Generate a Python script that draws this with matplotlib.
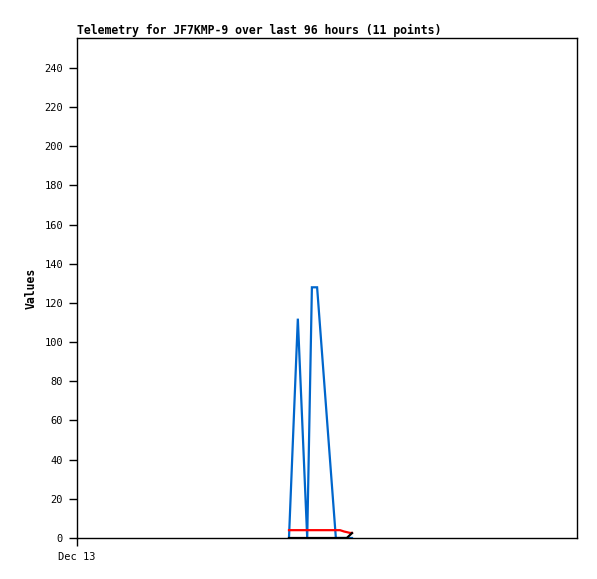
import matplotlib
matplotlib.use("Agg")
import matplotlib.pyplot as plt

# hours since Dec 13 00:00
hours = [40.7, 42.4, 44.2, 45.1, 46.1, 49.7, 50.5, 51.3, 51.8, 52.4, 52.8]
blue_vals = [0, 112, 0, 128, 128, 0, 0, 0, 0, 0, 0]
red_vals = [4, 4, 4, 4, 4, 4, 4, 3.3, 3, 2.6, 2.6]
black_vals = [0, 0, 0, 0, 0, 0, 0, 0, 0, 1.5, 2.5]
yticks = [0, 20, 40, 60, 80, 100, 120, 140, 160, 180, 200, 220, 240]
xtick_pos = [0]
xtick_labels = ["Dec 13"]

fig = plt.figure(figsize=(5.97, 5.79), dpi=100)
ax = fig.add_axes([77/597, 1-538/579, 500/597, 500/579])
mono = "DejaVu Sans Mono"

ax.plot(hours, blue_vals, color="#0066cc", lw=1.6, solid_joinstyle="miter")
ax.plot(hours, red_vals, color="#ff0000", lw=1.6)
ax.plot(hours, black_vals, color="#000000", lw=1.6)

ax.set_xlim(0, 96)
ax.set_ylim(0, 255.3)
ax.set_yticks(yticks)
ax.set_yticklabels([str(v) for v in yticks], family=mono, fontsize=7.5)
ax.set_xticks(xtick_pos)
ax.set_xticklabels(xtick_labels, family=mono, fontsize=7.5)
ax.tick_params(axis="both", direction="out", length=6, width=1, color="black", pad=4)
for s in ax.spines.values():
    s.set_linewidth(1)
    s.set_color("black")
ax.set_ylabel("Values", family=mono, fontsize=8.3, fontweight="bold", labelpad=5)
ax.set_title("Telemetry for JF7KMP-9 over last 96 hours (11 points)", family=mono,
             fontsize=8.3, fontweight="bold", loc="left", pad=3)
fig.savefig("out.png", dpi=100)
